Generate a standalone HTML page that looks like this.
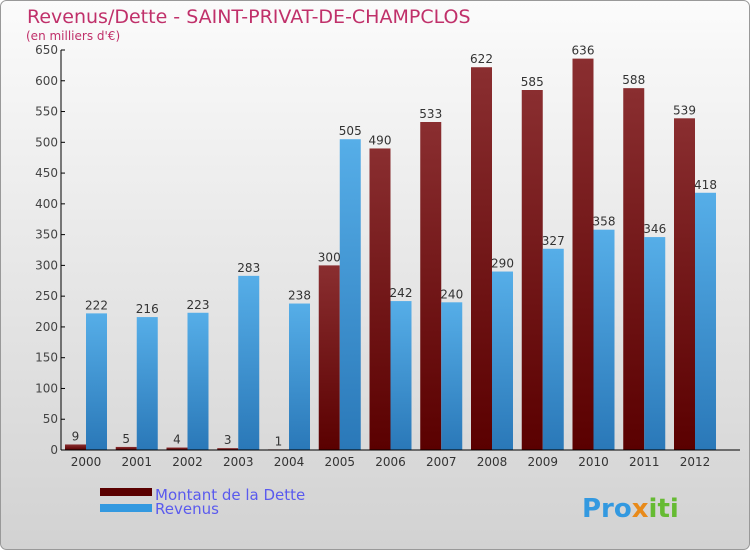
<!DOCTYPE html>
<html><head><meta charset="utf-8"><style>
body{margin:0;width:750px;height:550px;overflow:hidden;font-family:"DejaVu Sans","Liberation Sans",sans-serif}
</style></head><body>
<svg width="750" height="550" xmlns="http://www.w3.org/2000/svg">
<defs>
<linearGradient id="bg" x1="0" y1="0" x2="0" y2="1"><stop offset="0" stop-color="#fbfbfb"/><stop offset="1" stop-color="#d2d2d2"/></linearGradient>
<linearGradient id="gd" x1="0" y1="0" x2="0" y2="1"><stop offset="0" stop-color="#8a2e30"/><stop offset="1" stop-color="#5a0000"/></linearGradient>
<linearGradient id="gr" x1="0" y1="0" x2="0" y2="1"><stop offset="0" stop-color="#56aee8"/><stop offset="1" stop-color="#2a78b8"/></linearGradient>
</defs>
<rect x="0.5" y="0.5" width="749" height="549" rx="6" fill="url(#bg)" stroke="#999"/>
<text x="27" y="23" font-size="19" fill="#c0306a">Revenus/Dette - SAINT-PRIVAT-DE-CHAMPCLOS</text>
<text x="26" y="40" font-size="12" fill="#c0306a">(en milliers d'€)</text>
<g id="plot"></g>
<rect x="100" y="488" width="52" height="8" fill="#5a0000"/>
<text x="155" y="500" font-size="15" fill="#5a5aee">Montant de la Dette</text>
<rect x="100" y="504" width="52" height="8" fill="#3399e0"/>
<text x="155" y="514" font-size="15" fill="#5a5aee">Revenus</text>
<text x="582" y="517" font-size="26" font-weight="bold" fill="#3399e0">Pro<tspan fill="#e88a1a">x</tspan><tspan fill="#66bb33">iti</tspan></text>
</svg>
<script>
const years=["2000","2001","2002","2003","2004","2005","2006","2007","2008","2009","2010","2011","2012"];
const dette=[9,5,4,3,1,300,490,533,622,585,636,588,539];
const revenus=[222,216,223,283,238,505,242,240,290,327,358,346,418];
const ticks=[0,50,100,150,200,250,300,350,400,450,500,550,650,600];
const NS="http://www.w3.org/2000/svg";
const g=document.getElementById('plot');
const x0=61,y0=450,yTop=50,maxV=650,step=50.75,bw=21;
const y=v=>y0-v/maxV*(y0-yTop);
function mk(t,a,txt){const e=document.createElementNS(NS,t);for(const k in a)e.setAttribute(k,a[k]);if(txt!==undefined)e.textContent=txt;g.appendChild(e);return e;}
ticks.forEach(t=>{
 const l=mk('line',{x1:x0,x2:x0+4,y1:y(t),y2:y(t),stroke:'#000'});
 
 
 const tx=mk('text',{x:x0-3,y:y(t)+4,'font-size':12,fill:'#444','text-anchor':'end'},t);
 
 
});
years.forEach((yr,i)=>{
 const gx=x0+4+step*i;
 const b1=mk('rect',{x:gx,y:y(dette[i]),width:bw,height:y0-y(dette[i]),fill:'url(#gd)'});
 
 
 const b2=mk('rect',{x:gx+bw,y:y(revenus[i]),width:bw,height:y0-y(revenus[i]),fill:'url(#gr)'});
 
 
 const l1=mk('text',{x:gx+bw/2,y:y(dette[i])-4,'font-size':12,fill:'#333','text-anchor':'middle'},dette[i]);
 
 
 const l2=mk('text',{x:gx+bw*1.5,y:y(revenus[i])-4,'font-size':12,fill:'#333','text-anchor':'middle'},revenus[i]);
 
 
 const xl=mk('text',{x:gx+bw,y:466,'font-size':12,fill:'#333','text-anchor':'middle'},yr);
 
 
});
const ya=mk('line',{x1:x0,x2:x0,y1:yTop,y2:y0,stroke:'#000'});


const xa=mk('line',{x1:x0,x2:740,y1:y0,y2:y0,stroke:'#000'});


</script>
</body></html>
